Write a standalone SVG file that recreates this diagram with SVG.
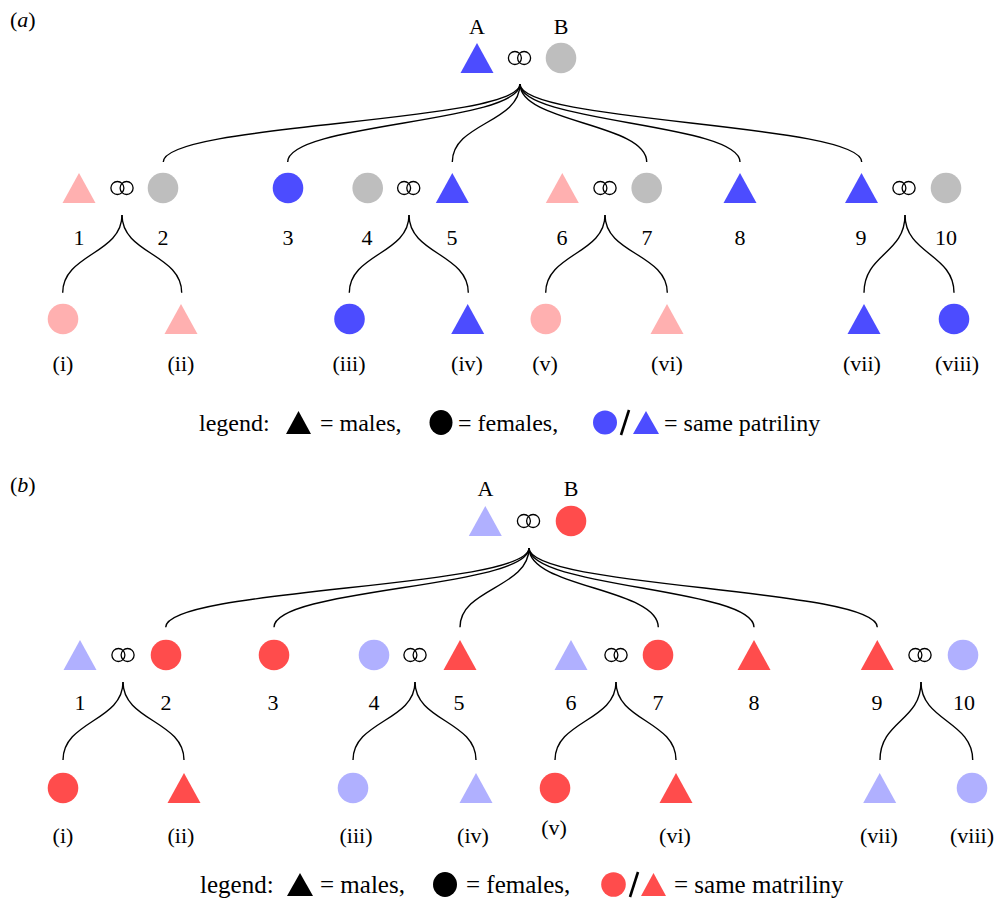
<svg xmlns="http://www.w3.org/2000/svg" width="996" height="899" viewBox="0 0 996 899">
<style>
text{font-family:"Liberation Serif","Times New Roman",serif;font-size:22px;fill:#000;text-anchor:middle}
.lg{text-anchor:start}
.la{text-anchor:start;font-size:24px}
.lbt{text-anchor:start;font-size:25px}
.it{font-style:italic}
.c{fill:none;stroke:#000;stroke-width:1.4}
.ring{fill:none;stroke:#000;stroke-width:1.3}
.bl{fill:#4c4cff}.pk{fill:#ffb0b0}.gy{fill:#bebebe}.rd{fill:#ff4c4c}.lb{fill:#b0b0ff}.bk{fill:#000}
</style>
<defs>
<g id="ring"><circle class="ring" cx="-4.6" cy="0" r="6.5"/><circle class="ring" cx="4.6" cy="0" r="6.5"/></g>
<path id="tri" d="M0 -15 L16.5 15 L-16.5 15 Z"/>
</defs>
<rect width="996" height="899" fill="#fff"/>

<!-- Panel a -->
<text x="10" y="27" class="lg">(<tspan class="it">a</tspan>)</text>
<g id="a-root">
<text x="477" y="34">A</text><text x="561" y="34">B</text>
<use href="#tri" x="477" y="58" class="bl"/>
<use href="#ring" x="519.5" y="58"/>
<circle cx="561" cy="58" r="15.3" class="gy"/>
</g>
<g id="a-connectors">
<path class="c" d="M520 84 C520 123 163.3 123 163.3 162"/>
<path class="c" d="M520 84 C520 123 287.7 123 287.7 162"/>
<path class="c" d="M520 84 C520 123 452.3 123 452.3 162"/>
<path class="c" d="M520 84 C520 123 646.7 123 646.7 162"/>
<path class="c" d="M520 84 C520 123 740 123 740 162"/>
<path class="c" d="M520 84 C520 123 861.7 123 861.7 162"/>
<path class="c" d="M122 215 C122 254 62.7 254 62.7 292.7"/>
<path class="c" d="M122 215 C122 254 181.7 254 181.7 292.7"/>
<path class="c" d="M409 215 C409 254 349.3 254 349.3 292.7"/>
<path class="c" d="M409 215 C409 254 468.3 254 468.3 292.7"/>
<path class="c" d="M605 215 C605 254 545.7 254 545.7 292.7"/>
<path class="c" d="M605 215 C605 254 667.3 254 667.3 292.7"/>
<path class="c" d="M905 215 C905 254 864 254 864 292.7"/>
<path class="c" d="M905 215 C905 254 954 254 954 292.7"/>
</g>
<g id="a-n1"><use href="#tri" x="79" y="188" class="pk"/><text x="79" y="245">1</text></g>
<use href="#ring" x="122" y="188"/>
<g id="a-n2"><circle cx="163" cy="188" r="15.3" class="gy"/><text x="163" y="245">2</text></g>
<g id="a-n3"><circle cx="288" cy="188" r="15.3" class="bl"/><text x="288" y="245">3</text></g>
<g id="a-n4"><circle cx="367.7" cy="188" r="15.3" class="gy"/><text x="367" y="245">4</text></g>
<use href="#ring" x="408.7" y="188"/>
<g id="a-n5"><use href="#tri" x="452.3" y="188" class="bl"/><text x="452" y="245">5</text></g>
<g id="a-n6"><use href="#tri" x="562.3" y="188" class="pk"/><text x="562" y="245">6</text></g>
<use href="#ring" x="605" y="188"/>
<g id="a-n7"><circle cx="646.7" cy="188" r="15.3" class="gy"/><text x="647" y="245">7</text></g>
<g id="a-n8"><use href="#tri" x="740" y="188" class="bl"/><text x="740" y="245">8</text></g>
<g id="a-n9"><use href="#tri" x="861.5" y="188" class="bl"/><text x="861" y="245">9</text></g>
<use href="#ring" x="904" y="188"/>
<g id="a-n10"><circle cx="946" cy="188" r="15.3" class="gy"/><text x="946" y="245">10</text></g>
<g id="a-i"><circle cx="63" cy="319" r="15.3" class="pk"/><text x="63" y="371">(i)</text></g>
<g id="a-ii"><use href="#tri" x="181" y="319" class="pk"/><text x="181" y="371">(ii)</text></g>
<g id="a-iii"><circle cx="349.5" cy="319" r="15.3" class="bl"/><text x="349" y="371">(iii)</text></g>
<g id="a-iv"><use href="#tri" x="467.7" y="319" class="bl"/><text x="467" y="371">(iv)</text></g>
<g id="a-v"><circle cx="545.8" cy="319" r="15.3" class="pk"/><text x="545" y="371">(v)</text></g>
<g id="a-vi"><use href="#tri" x="667" y="319" class="pk"/><text x="667" y="371">(vi)</text></g>
<g id="a-vii"><use href="#tri" x="864" y="319" class="bl"/><text x="862" y="371">(vii)</text></g>
<g id="a-viii"><circle cx="954" cy="319" r="15.3" class="bl"/><text x="957" y="371">(viii)</text></g>
<g id="a-legend">
<text x="199" y="431" class="la">legend:</text>
<path d="M298.5 411 L311 434 L286 434 Z" class="bk"/>
<text x="320" y="431" class="la">= males,</text>
<ellipse cx="441" cy="422.5" rx="11.5" ry="12.5" class="bk"/>
<text x="458" y="431" class="la">= females,</text>
<circle cx="605" cy="422.5" r="12" class="bl"/>
<path d="M621 435 L629 410" stroke="#000" stroke-width="2.6"/>
<path d="M646 411 L659 434 L633 434 Z" class="bl"/>
<text x="664" y="431" class="la">= same patriliny</text>
</g>

<!-- Panel b -->
<text x="10" y="492" class="lg">(<tspan class="it">b</tspan>)</text>
<g id="b-root">
<text x="485.5" y="496">A</text><text x="571" y="496">B</text>
<use href="#tri" x="485.3" y="521" class="lb"/>
<use href="#ring" x="528.5" y="521"/>
<circle cx="571" cy="521" r="15.3" class="rd"/>
</g>
<g id="b-connectors">
<path class="c" d="M529 548 C529 588 165.7 588 165.7 627.3"/>
<path class="c" d="M529 548 C529 588 274 588 274 627.3"/>
<path class="c" d="M529 548 C529 588 460 588 460 627.3"/>
<path class="c" d="M529 548 C529 588 658.3 588 658.3 627.3"/>
<path class="c" d="M529 548 C529 588 754 588 754 627.3"/>
<path class="c" d="M529 548 C529 588 877.3 588 877.3 627.3"/>
<path class="c" d="M123 682 C123 721 63 721 63 760"/>
<path class="c" d="M123 682 C123 721 184 721 184 760"/>
<path class="c" d="M415 682 C415 721 353 721 353 760"/>
<path class="c" d="M415 682 C415 721 476 721 476 760"/>
<path class="c" d="M616 682 C616 721 555 721 555 760"/>
<path class="c" d="M616 682 C616 721 676 721 676 760"/>
<path class="c" d="M921 682 C921 721 880 721 880 760"/>
<path class="c" d="M921 682 C921 721 972.7 721 972.7 760"/>
</g>
<g id="b-n1"><use href="#tri" x="80" y="655" class="lb"/><text x="80" y="710">1</text></g>
<use href="#ring" x="123" y="655"/>
<g id="b-n2"><circle cx="166" cy="655" r="15.3" class="rd"/><text x="166" y="710">2</text></g>
<g id="b-n3"><circle cx="274" cy="655" r="15.3" class="rd"/><text x="273" y="710">3</text></g>
<g id="b-n4"><circle cx="374" cy="655" r="15.3" class="lb"/><text x="374" y="710">4</text></g>
<use href="#ring" x="415" y="655"/>
<g id="b-n5"><use href="#tri" x="460" y="655" class="rd"/><text x="459" y="710">5</text></g>
<g id="b-n6"><use href="#tri" x="571" y="655" class="lb"/><text x="571" y="710">6</text></g>
<use href="#ring" x="616" y="655"/>
<g id="b-n7"><circle cx="658" cy="655" r="15.3" class="rd"/><text x="658" y="710">7</text></g>
<g id="b-n8"><use href="#tri" x="754" y="655" class="rd"/><text x="754" y="710">8</text></g>
<g id="b-n9"><use href="#tri" x="877.3" y="655" class="rd"/><text x="877" y="710">9</text></g>
<use href="#ring" x="920" y="655"/>
<g id="b-n10"><circle cx="963" cy="655" r="15.3" class="lb"/><text x="964" y="710">10</text></g>
<g id="b-i"><circle cx="63" cy="788" r="15.3" class="rd"/><text x="63" y="843">(i)</text></g>
<g id="b-ii"><use href="#tri" x="184" y="788" class="rd"/><text x="181" y="843">(ii)</text></g>
<g id="b-iii"><circle cx="353" cy="788" r="15.3" class="lb"/><text x="356" y="843">(iii)</text></g>
<g id="b-iv"><use href="#tri" x="476" y="788" class="lb"/><text x="473" y="843">(iv)</text></g>
<g id="b-v"><circle cx="555" cy="788" r="15.3" class="rd"/><text x="554" y="835">(v)</text></g>
<g id="b-vi"><use href="#tri" x="676" y="788" class="rd"/><text x="675" y="843">(vi)</text></g>
<g id="b-vii"><use href="#tri" x="879.7" y="788" class="lb"/><text x="879" y="843">(vii)</text></g>
<g id="b-viii"><circle cx="972" cy="788" r="15.3" class="lb"/><text x="972" y="843">(viii)</text></g>
<g id="b-legend">
<text x="200" y="893" class="lbt">legend:</text>
<path d="M300 873 L313 896 L287 896 Z" class="bk"/>
<text x="320" y="893" class="lbt">= males,</text>
<ellipse cx="445" cy="884.5" rx="12" ry="12.5" class="bk"/>
<text x="466" y="893" class="lbt">= females,</text>
<circle cx="613.5" cy="884.5" r="12.3" class="rd"/>
<path d="M630 897 L638 872" stroke="#000" stroke-width="2.6"/>
<path d="M653.5 873 L666 896 L641 896 Z" class="rd"/>
<text x="674" y="893" class="lbt">= same matriliny</text>
</g>
</svg>
